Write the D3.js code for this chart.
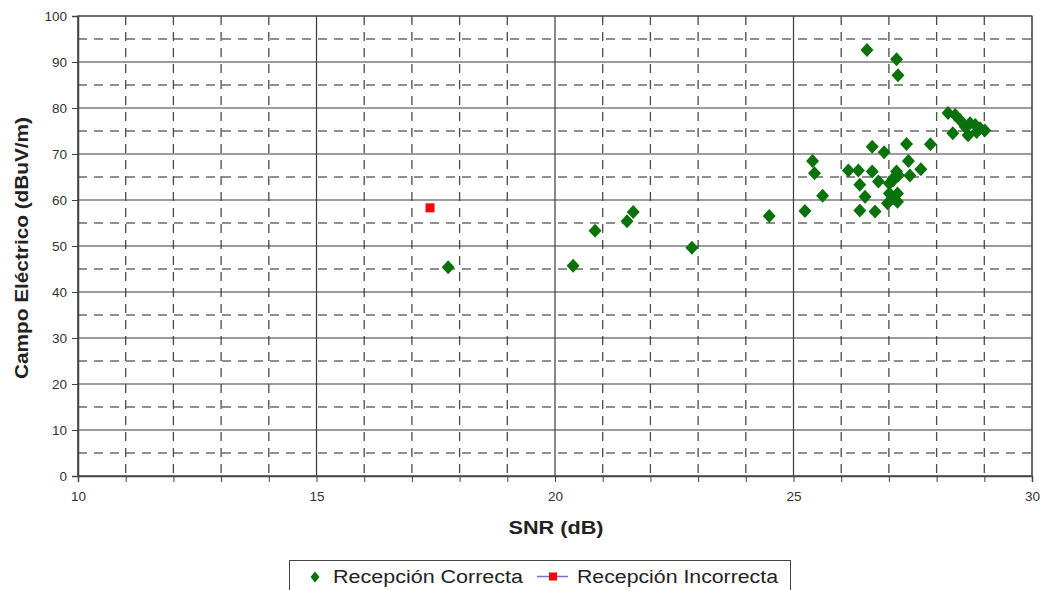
<!DOCTYPE html>
<html><head><meta charset="utf-8">
<script src="https://cdn.jsdelivr.net/npm/d3@7"></script>
<style>body{margin:0;background:#fff}svg{display:block}text{font-family:"Liberation Sans",Arial,sans-serif}</style>
</head><body><svg id="c" width="1045" height="590"></svg>
<script>
const correctSNR = [17.76,20.38,20.84,21.51,21.64,22.87,24.49,25.24,26.54,27.16,27.19,
 28.24,28.39,28.49,28.34,28.66,28.70,28.81,28.91,29.01,28.60,28.84,
 26.65,26.90,27.37,27.87,25.40,25.44,27.41,27.67,26.15,26.36,26.65,27.16,27.44,27.09,27.20,
 27.01,26.78,26.39,26.50,25.61,27.01,27.18,26.97,27.18,27.09,26.39,26.71,27.09];
const correctField = [45.4,45.7,53.3,55.4,57.4,49.6,56.5,57.6,92.6,90.6,87.1,
 78.9,78.5,77.4,74.5,74.1,76.7,76.3,75.6,75.1,75.9,74.8,
 71.6,70.4,72.2,72.1,68.5,65.8,68.5,66.7,66.4,66.4,66.2,66.2,65.3,64.7,65.4,
 63.6,64.0,63.3,60.7,60.9,61.4,61.4,59.3,59.6,60.4,57.7,57.5,64.3];
const incorrectSNR = [17.38];
const incorrectField = [58.3];
const xTicks = [10,15,20,25,30];
const yTicks = [0,10,20,30,40,50,60,70,80,90,100];
const seriesNames = ["Recepción Correcta","Recepción Incorrecta"];

const svg = d3.select("#c");
const L=78,R=1032,T=16,B=476;
const x = d3.scaleLinear().domain([10,30]).range([L,R]);
const y = d3.scaleLinear().domain([0,100]).range([B,T]);

// minor dashed grid
const g = svg.append("g");
g.selectAll(".vx").data(d3.range(11,30).filter(v=>v%5)).join("line")
 .attr("x1",d=>x(d)).attr("x2",d=>x(d)).attr("y1",T).attr("y2",B)
 .attr("stroke","#4a4a4a").attr("stroke-width",1.3).attr("stroke-dasharray","9,7");
g.selectAll(".hy").data(d3.range(5,100,10)).join("line")
 .attr("x1",L).attr("x2",R).attr("y1",d=>y(d)).attr("y2",d=>y(d))
 .attr("stroke","#6a6a6a").attr("stroke-width",1.5).attr("stroke-dasharray","9,7");
// major solid grid
g.selectAll(".mx").data(xTicks).join("line")
 .attr("x1",d=>x(d)).attr("x2",d=>x(d)).attr("y1",T).attr("y2",B)
 .attr("stroke","#3a3a3a").attr("stroke-width",1.2);
g.selectAll(".my").data(yTicks).join("line")
 .attr("x1",L).attr("x2",R).attr("y1",d=>y(d)).attr("y2",d=>y(d))
 .attr("stroke","#3a3a3a").attr("stroke-width",1.2);
g.append("rect").attr("x",L).attr("y",T).attr("width",R-L).attr("height",B-T)
 .attr("fill","none").attr("stroke","#555").attr("stroke-width",1.2);

// axes
const xa = svg.append("g").attr("transform",`translate(0,${B})`)
 .call(d3.axisBottom(x).tickValues(d3.range(10,31,1)).tickSize(6).tickFormat(d=>xTicks.includes(d)?d:""));
xa.select(".domain").attr("stroke","#444").attr("stroke-width",1.5);
xa.selectAll(".tick line").attr("stroke","#444");
xa.selectAll("text").attr("font-size",13.5).attr("fill","#333").attr("y",25).attr("dy",0);
const ya = svg.append("g").attr("transform",`translate(${L},0)`)
 .call(d3.axisLeft(y).tickValues(yTicks).tickSize(6));
ya.select(".domain").attr("stroke","#444").attr("stroke-width",1.5);
ya.selectAll(".tick line").attr("stroke","#444");
ya.selectAll("text").attr("font-size",13.5).attr("fill","#333").attr("x",-11);

// titles
svg.append("text").attr("x",556).attr("y",534).attr("text-anchor","middle")
 .attr("font-size",18).attr("font-weight","bold").attr("fill","#222")
 .attr("textLength",95).attr("lengthAdjust","spacingAndGlyphs").text("SNR (dB)");
svg.append("text").attr("transform","translate(28,248) rotate(-90)").attr("text-anchor","middle")
 .attr("font-size",18).attr("font-weight","bold").attr("fill","#222")
 .attr("textLength",262).attr("lengthAdjust","spacingAndGlyphs").text("Campo Eléctrico (dBuV/m)");

// points
const correct = correctSNR.map((v,i)=>({x:v,y:correctField[i]}));
const incorrect = incorrectSNR.map((v,i)=>({x:v,y:incorrectField[i]}));
const diamond = "M0,-7L6.5,0L0,7L-6.5,0Z";
svg.append("g").selectAll("path").data(correct).join("path")
 .attr("d",diamond).attr("transform",d=>`translate(${x(d.x)},${y(d.y)})`).attr("fill","#0a720a");
svg.append("g").selectAll("rect").data(incorrect).join("rect")
 .attr("x",d=>x(d.x)-4.5).attr("y",d=>y(d.y)-4.5).attr("width",9).attr("height",9).attr("fill","#f00");

// legend
const lg = svg.append("g");
lg.append("rect").attr("x",289.5).attr("y",560.5).attr("width",501).attr("height",32)
 .attr("fill","#fff").attr("stroke","#444");
lg.append("path").attr("d","M0,-5.5L4.5,0L0,5.5L-4.5,0Z").attr("transform","translate(315,577)").attr("fill","#0a720a");
lg.append("text").attr("x",333).attr("y",583).attr("font-size",18).attr("fill","#222")
 .attr("textLength",190).attr("lengthAdjust","spacingAndGlyphs").text(seriesNames[0]);
lg.append("line").attr("x1",537).attr("x2",568).attr("y1",576.5).attr("y2",576.5).attr("stroke","#7070d0").attr("stroke-width",1.5);
lg.append("rect").attr("x",549).attr("y",572.5).attr("width",8).attr("height",8).attr("fill","#f00");
lg.append("text").attr("x",577).attr("y",583).attr("font-size",18).attr("fill","#222")
 .attr("textLength",201).attr("lengthAdjust","spacingAndGlyphs").text(seriesNames[1]);
</script></body></html>
